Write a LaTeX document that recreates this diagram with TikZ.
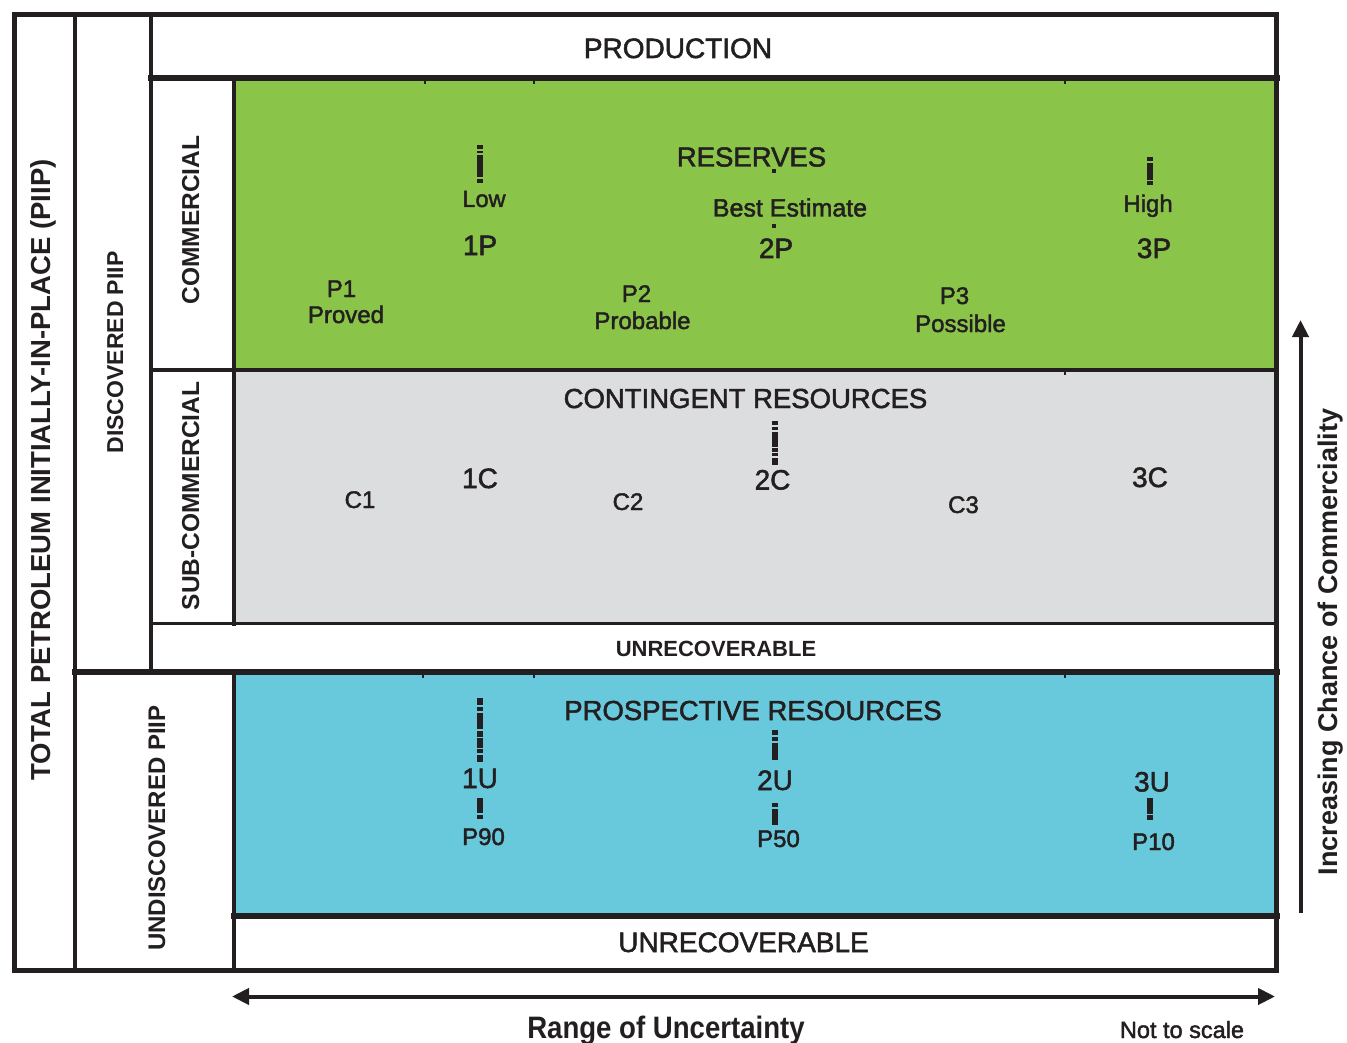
\documentclass[tikz,border=0pt]{standalone}
\usepackage{fontspec}
\usetikzlibrary{arrows.meta}
\setmainfont{Liberation Sans}
\newfontfamily\semi{Liberation Sans}[FakeBold=1.8]
\newcommand\fs[1]{\fontsize{#1}{#1}\selectfont}
\definecolor{ink}{HTML}{231F20}
\definecolor{resgreen}{HTML}{8AC449}
\definecolor{congrey}{HTML}{DCDDDE}
\definecolor{prosblue}{HTML}{69C9DC}
\newcommand\mk[3]{\fill[ink] (#1-3,#2) rectangle (#1+3,#3);}
\tikzset{axtip/.tip={Triangle[length=17pt,width=16pt]}}
\begin{document}
\begin{tikzpicture}[x=1pt,y=-1pt,
  lbl/.style={inner sep=0pt, outer sep=0pt, text=ink, anchor=base, font=\semi},
  side/.style={lbl, rotate=90},
  gridline/.style={draw=ink, line cap=rect},
  axis/.style={draw=ink, line width=4pt}]
\useasboundingbox (0,0) rectangle (1347,1043);
\fill[white] (0,0) rectangle (1347,1043);
% coloured bands
\fill[resgreen] (234,78) rectangle (1276,370);
\fill[congrey] (234,370) rectangle (1276,623.5);
\fill[prosblue] (234,671.5) rectangle (1276,915.5);
% grid
\draw[gridline, line width=4pt] (75.3,14.5) -- (75.3,970.5);
\draw[gridline, line width=4pt] (150.5,14.5) -- (150.5,671.5);
\draw[gridline, line width=6pt] (150.5,78.5) -- (1276.5,78.5);
\draw[gridline, line width=4pt] (234,78.5) -- (234,623.5);
\draw[gridline, line width=4pt] (150.5,370) -- (1276.5,370);
\draw[gridline, line width=3.5pt] (150.5,623.5) -- (1276.5,623.5);
\draw[gridline, line width=6pt] (75.3,671.5) -- (1276.5,671.5);
\draw[gridline, line width=4pt] (234,671.5) -- (234,970.5);
\draw[gridline, line width=6pt] (234,915.5) -- (1276.5,915.5);
\draw[draw=ink, line width=5pt] (14,14.5) rectangle (1276.5,970.5);
% small ticks on band edges
\foreach \tx in {425,534,1065}{\fill[ink] (\tx-1,81) rectangle (\tx+1,84.5);}
\foreach \tx in {423,534,1065}{\fill[ink] (\tx-1,674.5) rectangle (\tx+1,678);}
\fill[ink] (1064,372) rectangle (1066,375);
% side labels
\node[side, font=\bfseries\fs{27.5}] (piip) at (50,470) {TOTAL PETROLEUM INITIALLY-IN-PLACE (PIIP)};
\node[side, font=\bfseries\fs{23}] (disc) at (123,352.5) {DISCOVERED PIIP};
\node[side, font=\bfseries\fs{24.5}] (comm) at (199,220) {COMMERCIAL};
\node[side, font=\bfseries\fs{24.5}] (subc) at (199,496) {SUB-COMMERCIAL};
\node[side, font=\bfseries\fs{24}] (undisc) at (165,828) {UNDISCOVERED PIIP};
% headings
\node[lbl, font=\semi\fs{28}] (prod) at (678,58) {PRODUCTION};
\node[lbl, font=\semi\fs{27.5}] (res) at (751.5,166.5) {RESERVES};
\node[lbl, font=\semi\fs{27.5}] (cont) at (745.5,408) {CONTINGENT RESOURCES};
\node[lbl, font=\bfseries\fs{22}] (unrec1) at (716,656) {UNRECOVERABLE};
\node[lbl, font=\semi\fs{27.5}] (pros) at (753,720) {PROSPECTIVE RESOURCES};
\node[lbl, font=\semi\fs{28}] (unrec2) at (743.5,952) {UNRECOVERABLE};
% reserves
\node[lbl, font=\semi\fs{23.5}] (low) at (484,207) {Low};
\node[lbl, font=\semi\fs{25}] (best) at (790,216.5) {Best Estimate};
\node[lbl, font=\semi\fs{24}] (high) at (1148,212) {High};
\node[lbl, font=\semi\fs{28}] (p1p) at (480,255) {1P};
\node[lbl, font=\semi\fs{28}] (p2p) at (776,258) {2P};
\node[lbl, font=\semi\fs{28}] (p3p) at (1154,258) {3P};
\node[lbl, font=\semi\fs{24}] (p1) at (341.5,297) {P1};
\node[lbl, font=\semi\fs{24}] (proved) at (346,323) {Proved};
\node[lbl, font=\semi\fs{24}] (p2) at (636.5,302) {P2};
\node[lbl, font=\semi\fs{24}] (probable) at (642.5,329) {Probable};
\node[lbl, font=\semi\fs{24}] (p3) at (954.5,304) {P3};
\node[lbl, font=\semi\fs{24}] (possible) at (960.5,332) {Possible};
% contingent
\node[lbl, font=\semi\fs{28}] (c1c) at (480,488) {1C};
\node[lbl, font=\semi\fs{28}] (c2c) at (772.5,489.5) {2C};
\node[lbl, font=\semi\fs{28}] (c3c) at (1150,487) {3C};
\node[lbl, font=\semi\fs{24}] (c1) at (360,508) {C1};
\node[lbl, font=\semi\fs{24}] (c2) at (628,510) {C2};
\node[lbl, font=\semi\fs{24}] (c3) at (963.5,513) {C3};
% prospective
\node[lbl, font=\semi\fs{28}] (u1) at (480,788) {1U};
\node[lbl, font=\semi\fs{28}] (u2) at (775,790) {2U};
\node[lbl, font=\semi\fs{28}] (u3) at (1152,791.5) {3U};
\node[lbl, font=\semi\fs{24}] (p90) at (483.5,845) {P90};
\node[lbl, font=\semi\fs{24}] (p50) at (778.5,847) {P50};
\node[lbl, font=\semi\fs{24}] (p10) at (1153.5,850) {P10};
% markers
\mk{480}{145}{149.3}\mk{480}{150.7}{153.3}\mk{480}{155}{176.7}\mk{480}{179.3}{182.7}
\fill[ink] (771.5,169.5) rectangle (775.5,173.5);
\fill[ink] (772,224.5) rectangle (776,228.5);
\mk{1150}{157.3}{160.7}\mk{1150}{162.7}{180}\mk{1150}{181}{185}
\mk{774.7}{420.7}{425}\mk{774.7}{426.7}{430}\mk{774.7}{431.7}{446.7}
\mk{774.7}{448.3}{451.7}\mk{774.7}{452.7}{456}\mk{774.7}{458.3}{465}
\mk{479.7}{698.3}{705}\mk{479.7}{706.7}{710.7}\mk{479.7}{712.7}{729.3}
\mk{479.7}{730.7}{736.7}\mk{479.7}{738.3}{748.3}\mk{479.7}{749.3}{753.3}\mk{479.7}{755}{761.7}
\mk{479.7}{798.3}{813.3}\mk{479.7}{815}{819.3}
\mk{774.7}{730}{735}\mk{774.7}{736.7}{740.7}\mk{774.7}{742.7}{760}
\mk{774.7}{803}{807}\mk{774.7}{809}{825}
\mk{1149.7}{798.3}{814}\mk{1149.7}{815.3}{820}
% axes
\coordinate (hx1) at (232,996.5);
\coordinate (hx2) at (1275,996.5);
\draw[axis, axtip-axtip] (hx1) -- (hx2);
\coordinate (vy1) at (1300.5,912.5);
\coordinate (vy2) at (1300.5,320);
\draw[axis, -axtip] (vy1) -- (vy2);
\node[lbl, font=\bfseries\fs{31}, xscale=0.89] (range) at (666,1038) {Range of Uncertainty};
\node[lbl, font=\semi\fs{23.5}] (nts) at (1182,1038) {Not to scale};
\node[side, font=\bfseries\fs{27}] (incr) at (1337,642) {Increasing Chance of Commerciality};
\end{tikzpicture}
\end{document}
